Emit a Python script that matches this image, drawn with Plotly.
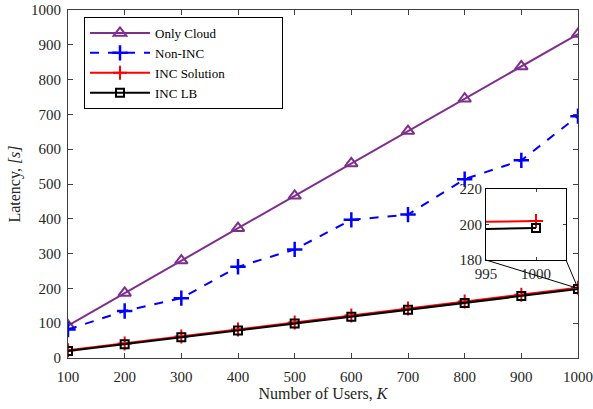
import plotly.graph_objects as go

K = [100, 200, 300, 400, 500, 600, 700, 800, 900, 1000]
only_cloud = [93, 187, 280, 373, 466, 559, 652, 745, 838, 931]
non_inc = [82, 135, 172, 262, 312, 397, 412, 514, 568, 695]
inc_sol = [22, 42, 62, 82, 102, 122, 142, 162, 182, 202]
inc_lb = [19.8, 39.6, 59.4, 79.2, 99, 118.8, 138.6, 158.4, 178.2, 198]
series_names = ["Only Cloud", "Non-INC", "INC Solution", "INC LB"]

inset_x = [995, 1000]
inset_sol = [201.5, 202]
inset_lb = [197.5, 198]

FONT = "Liberation Serif"
PURPLE = "#7E2F8E"
PAD = "\u00a0" * 16

fig = go.Figure()
fig.add_trace(go.Scatter(x=K, y=only_cloud, name=series_names[0], mode="lines+markers",
                         line=dict(color=PURPLE, width=2),
                         marker=dict(symbol="triangle-up-open", size=11, color=PURPLE, line=dict(width=2))))
fig.add_trace(go.Scatter(x=K, y=non_inc, name=series_names[1], mode="lines+markers",
                         line=dict(color="#0000FF", width=2, dash="dash"),
                         marker=dict(symbol="cross-thin-open", size=11, color="#0000FF", line=dict(width=2.5, color="#0000FF"))))
fig.add_trace(go.Scatter(x=K, y=inc_sol, name=series_names[2] + PAD, mode="lines+markers",
                         line=dict(color="#FF0000", width=2),
                         marker=dict(symbol="cross-thin-open", size=10, color="#FF0000", line=dict(width=2, color="#FF0000"))))
fig.add_trace(go.Scatter(x=K, y=inc_lb, name=series_names[3], mode="lines+markers",
                         line=dict(color="#000000", width=2),
                         marker=dict(symbol="square-open", size=8, color="#000000", line=dict(width=2))))

# inset
fig.add_trace(go.Scatter(x=inset_x, y=inset_sol, xaxis="x2", yaxis="y2", showlegend=False, mode="lines",
                         line=dict(color="#FF0000", width=2)))
fig.add_trace(go.Scatter(x=inset_x[-1:], y=inset_sol[-1:], xaxis="x2", yaxis="y2", showlegend=False, mode="markers",
                         marker=dict(symbol="cross-thin-open", size=10, color="#FF0000", line=dict(width=2, color="#FF0000"))))
fig.add_trace(go.Scatter(x=inset_x, y=inset_lb, xaxis="x2", yaxis="y2", showlegend=False, mode="lines",
                         line=dict(color="#000000", width=2)))
fig.add_trace(go.Scatter(x=inset_x[-1:], y=inset_lb[-1:], xaxis="x2", yaxis="y2", showlegend=False, mode="markers",
                         marker=dict(symbol="square-open", size=8, color="#000000", line=dict(width=2))))

axis_common = dict(showgrid=False, zeroline=False, showline=True, linecolor="#404040", linewidth=1,
                   mirror="ticks", ticks="inside", ticklen=5, tickcolor="#404040",
                   tickfont=dict(family=FONT, size=15, color="#262626"))

ix0, ix1 = 418 / 510, 498 / 510
iy0, iy1 = 98 / 348, 169 / 348

fig.update_layout(
    width=593, height=409,
    margin=dict(l=68, r=15, t=10, b=51, autoexpand=False),
    paper_bgcolor="white", plot_bgcolor="white",
    font=dict(family=FONT, color="#262626"),
    xaxis=dict(range=[100, 1000], tickvals=K, ticklabelstandoff=5,
               title=dict(text="Number of Users, <i>K</i>", font=dict(size=16, family=FONT), standoff=2),
               **axis_common),
    yaxis=dict(range=[0, 1000], dtick=100, ticklabelstandoff=3,
               title=dict(text="Latency, <i>[s]</i>", font=dict(size=16, family=FONT), standoff=6),
               **axis_common),
    xaxis2=dict(domain=[ix0, ix1], anchor="y2", range=[995, 1003], tickvals=[995, 1000], tickangle=0,
                **{**axis_common, "linecolor": "#000000", "linewidth": 1, "ticklen": 3}),
    yaxis2=dict(domain=[iy0, iy1], anchor="x2", range=[180, 220], tickvals=[180, 200, 220],
                **{**axis_common, "linecolor": "#000000", "linewidth": 1, "ticklen": 3}),
    legend=dict(x=(84 - 68) / 510, y=(358 - 17) / 348, xref="paper", yref="paper", xanchor="left", yanchor="top",
                bordercolor="#000000", borderwidth=1, bgcolor="white",
                font=dict(family=FONT, size=13, color="#000000"), itemwidth=60, tracegroupgap=0),
    shapes=[
        dict(type="line", xref="paper", yref="paper", x0=ix0, y0=iy0, x1=1.0, y1=0.2,
             line=dict(color="#000000", width=1)),
        dict(type="line", xref="paper", yref="paper", x0=ix1, y0=iy0, x1=1.0, y1=0.2,
             line=dict(color="#000000", width=1)),
    ],
)

fig.write_html("out.html")
